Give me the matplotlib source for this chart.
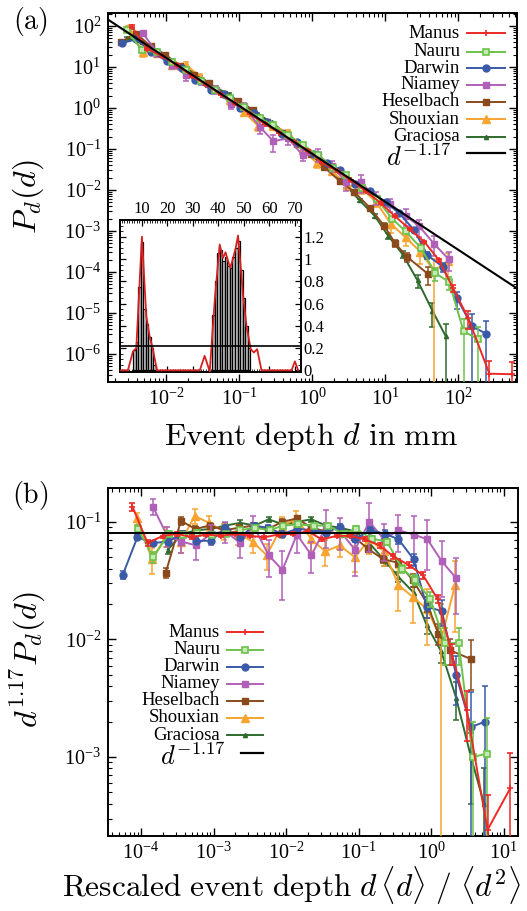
import numpy as np
import matplotlib
matplotlib.use("Agg")
import matplotlib.pyplot as plt
from matplotlib.lines import Line2D
from matplotlib.ticker import (LogLocator, NullFormatter, MultipleLocator, FixedLocator,
                               LogFormatterSciNotation)

# ---------------- data ----------------
sites = ["Manus", "Nauru", "Darwin", "Niamey", "Heselbach", "Shouxian", "Graciosa"]

# panel (a): event depth d (mm) and P_d(d)
d_manus = [0.0034, 0.0055, 0.0089, 0.0141, 0.0224, 0.0355, 0.0562, 0.0891, 0.141, 0.224, 0.355, 0.562, 0.891,
           1.38, 2.24, 3.39, 5.5, 8.7, 13.5, 21.9, 34.7, 55, 86, 138, 269, 550]
P_manus = [95, 28, 18, 11.1, 6.05, 3.7, 2.11, 1.29, 0.718, 0.409, 0.25, 0.149, 0.0912, 0.0465, 0.0282, 0.0174,
           0.00923, 0.0048, 0.00234, 0.0011, 5.4e-4, 1.93e-4, 3.95e-5, 7.5e-6, 3.3e-7, 3.2e-7]
d_nauru = [0.00288, 0.00468, 0.00759, 0.012, 0.0186, 0.0302, 0.0468, 0.0741, 0.117, 0.191, 0.288, 0.468, 0.759,
           1.2, 1.95, 2.95, 4.79, 7.76, 12.6, 19.1, 30.9, 49, 75.9, 119, 186]
P_nauru = [78, 25.5, 23, 13.1, 8.2, 4.46, 2.74, 1.71, 1.04, 0.566, 0.383, 0.222, 0.123, 0.0719, 0.0348, 0.0235,
           0.0111, 0.00589, 0.00197, 9.8e-4, 3.87e-4, 9.4e-5, 5.6e-5, 3.6e-6, 2.3e-6]
d_darwin = [0.00245, 0.00389, 0.0063, 0.0102, 0.0166, 0.0251, 0.0407, 0.0631, 0.102, 0.158, 0.245, 0.389, 0.617,
            1.05, 1.58, 2.4, 3.89, 6.31, 10.2, 15.5, 25.1, 38, 61.7, 96.6, 155, 243]
P_darwin = [38, 47, 23.7, 13.8, 9.2, 4.93, 2.80, 2.16, 1.02, 0.771, 0.442, 0.23, 0.147, 0.0773, 0.0454, 0.0313,
            0.0138, 0.00944, 0.005, 0.00275, 0.00105, 2.58e-4, 1.34e-4, 2.29e-5, 4.8e-6, 3.1e-6]
d_niamey = [0.00479, 0.00759, 0.012, 0.019, 0.0302, 0.0479, 0.0776, 0.117, 0.191, 0.295, 0.468, 0.741, 1.2, 1.86,
            2.95, 4.68, 7.41, 11.7, 19.1, 29.5, 46.8, 74.1]
P_niamey = [67, 21.9, 11.4, 6.2, 4.56, 2.79, 1.26, 1.09, 0.349, 0.155, 0.181, 0.0713, 0.0719, 0.0385, 0.0155,
            0.0157, 0.0065, 0.00456, 0.00236, 0.00129, 4.9e-4, 2.06e-4]
d_heselbach = [0.0024, 0.00389, 0.00617, 0.00977, 0.0155, 0.0245, 0.0389, 0.0617, 0.0977, 0.155, 0.245, 0.389,
               0.617, 0.955, 1.48, 2.4, 3.8, 6.17, 9.77, 13.8, 20, 38.9]
P_heselbach = [41, 65, 32, 20.1, 10.7, 6.53, 3.99, 2.17, 1.46, 0.91, 0.442, 0.24, 0.134, 0.0748, 0.0356, 0.0164,
               0.00895, 0.00369, 0.00133, 4.98e-4, 2.34e-4, 8.9e-5]
d_shouxian = [0.00302, 0.00479, 0.00759, 0.012, 0.0186, 0.0295, 0.0468, 0.0741, 0.117, 0.182, 0.295, 0.468, 0.759,
              1.17, 1.86, 3.02, 4.79, 7.59, 12.0, 19.1, 30.2, 46.8, 72.4]
P_shouxian = [91, 23.7, 21.9, 11.4, 11.4, 5.77, 2.86, 1.6, 0.79, 0.369, 0.364, 0.249, 0.0935, 0.0446, 0.0292,
              0.0132, 0.0108, 0.00502, 0.0015, 6.97e-4, 3.15e-4, 1.06e-4, 1.84e-4]
d_graciosa = [0.00295, 0.00468, 0.00741, 0.0117, 0.0182, 0.0295, 0.0468, 0.0724, 0.115, 0.178, 0.282, 0.447, 0.708,
              1.12, 1.78, 2.95, 4.47, 7.24, 11.0, 17.4, 27.9, 44.7, 67.6]
P_graciosa = [50, 40.5, 25.3, 15.1, 9.7, 5.77, 3.21, 2.16, 1.15, 0.723, 0.442, 0.23, 0.128, 0.0695, 0.0322, 0.0123,
              0.00562, 0.00232, 7.7e-4, 2.7e-4, 6.2e-5, 1.12e-5, 2.75e-6]

# panel (b): rescaled depth and d^1.17 P_d(d)
xb_manus = [7.6e-5, 1.23e-4, 2.0e-4, 3.16e-4, 5.0e-4, 7.9e-4, 1.26e-3, 2.0e-3, 3.16e-3, 5.0e-3, 7.9e-3, 0.0126,
            0.02, 0.031, 0.05, 0.076, 0.123, 0.195, 0.30, 0.49, 0.78, 1.23, 1.93, 3.1, 6.0, 12.3]
yb_manus = [0.135, 0.066, 0.076, 0.079, 0.074, 0.078, 0.076, 0.079, 0.076, 0.074, 0.078, 0.079, 0.083, 0.071, 0.076,
            0.076, 0.071, 0.063, 0.051, 0.043, 0.035, 0.022, 0.0076, 0.0025, 2.4e-4, 5.4e-4]
xb_nauru = [9.1e-5, 1.48e-4, 2.4e-4, 3.8e-4, 5.9e-4, 9.5e-4, 1.48e-3, 2.34e-3, 3.7e-3, 6.0e-3, 9.1e-3, 0.0148,
            0.024, 0.038, 0.062, 0.093, 0.151, 0.245, 0.40, 0.60, 0.98, 1.55, 2.4, 3.76, 5.9]
yb_nauru = [0.087, 0.050, 0.079, 0.078, 0.081, 0.078, 0.079, 0.085, 0.089, 0.085, 0.093, 0.095, 0.093, 0.093, 0.079,
            0.087, 0.072, 0.068, 0.040, 0.032, 0.022, 0.0093, 0.0093, 0.001, 0.00107]
xb_darwin = [5.6e-5, 8.9e-5, 1.45e-4, 2.34e-4, 3.8e-4, 5.75e-4, 9.3e-4, 1.45e-3, 2.34e-3, 3.6e-3, 5.6e-3, 8.9e-3,
             0.0141, 0.024, 0.036, 0.055, 0.089, 0.145, 0.234, 0.355, 0.575, 0.87, 1.41, 2.21, 3.55, 5.56]
yb_darwin = [0.0355, 0.074, 0.066, 0.068, 0.079, 0.069, 0.069, 0.089, 0.074, 0.093, 0.089, 0.079, 0.087, 0.085,
             0.081, 0.091, 0.071, 0.085, 0.079, 0.071, 0.048, 0.019, 0.0174, 0.005, 0.0018, 0.002]
xb_niamey = [1.45e-4, 2.3e-4, 3.6e-4, 5.75e-4, 9.1e-4, 1.45e-3, 2.34e-3, 3.55e-3, 5.75e-3, 8.9e-3, 0.0141, 0.0224,
             0.036, 0.056, 0.089, 0.141, 0.224, 0.355, 0.575, 0.89, 1.41, 2.24]
yb_niamey = [0.135, 0.076, 0.068, 0.063, 0.079, 0.083, 0.066, 0.093, 0.052, 0.039, 0.078, 0.052, 0.093, 0.083,
             0.058, 0.10, 0.071, 0.085, 0.078, 0.071, 0.046, 0.033]
xb_heselbach = [2.19e-4, 3.55e-4, 5.6e-4, 8.9e-4, 1.41e-3, 2.24e-3, 3.55e-3, 5.6e-3, 8.9e-3, 0.0141, 0.0224,
                0.0355, 0.056, 0.087, 0.135, 0.219, 0.347, 0.56, 0.89, 1.26, 1.82, 3.55]
yb_heselbach = [0.037, 0.102, 0.087, 0.093, 0.085, 0.089, 0.093, 0.087, 0.10, 0.107, 0.089, 0.083, 0.079, 0.074,
                0.059, 0.048, 0.045, 0.032, 0.020, 0.0112, 0.0081, 0.0068]
xb_shouxian = [8.9e-5, 1.41e-4, 2.24e-4, 3.55e-4, 5.5e-4, 8.7e-4, 1.38e-3, 2.19e-3, 3.47e-3, 5.4e-3, 8.7e-3,
               0.0138, 0.0224, 0.0347, 0.055, 0.089, 0.141, 0.224, 0.355, 0.56, 0.89, 1.38, 2.14]
yb_shouxian = [0.107, 0.048, 0.076, 0.068, 0.112, 0.098, 0.083, 0.079, 0.068, 0.052, 0.091, 0.107, 0.071, 0.056,
               0.063, 0.05, 0.071, 0.056, 0.029, 0.023, 0.018, 0.01, 0.029]
xb_graciosa = [2.34e-4, 3.7e-4, 5.9e-4, 9.3e-4, 1.45e-3, 2.34e-3, 3.7e-3, 5.75e-3, 9.1e-3, 0.0141, 0.0224, 0.0355,
               0.056, 0.089, 0.141, 0.234, 0.355, 0.575, 0.87, 1.38, 2.21, 3.55, 5.37]
yb_graciosa = [0.058, 0.079, 0.085, 0.087, 0.093, 0.098, 0.093, 0.105, 0.095, 0.10, 0.105, 0.093, 0.089, 0.083,
               0.066, 0.046, 0.034, 0.025, 0.0132, 0.0079, 0.0032, 0.001, 4e-4]

# relative error of each bin (same bins in both panels)
rel_manus = [0.08, 0.06, 0.05, 0.04, 0.04, 0.03, 0.03, 0.03, 0.03, 0.03, 0.03, 0.03, 0.03, 0.03, 0.03, 0.03, 0.04,
             0.04, 0.05, 0.06, 0.07, 0.08, 0.2, 0.45, 1.0, 1.0]
rel_nauru = [0.08, 0.1, 0.05, 0.05, 0.05, 0.04, 0.04, 0.04, 0.04, 0.04, 0.04, 0.04, 0.04, 0.04, 0.04, 0.05, 0.05,
             0.06, 0.08, 0.1, 0.15, 0.35, 0.35, 1.0, 1.0]
rel_darwin = [0.08, 0.06, 0.05, 0.05, 0.05, 0.05, 0.05, 0.05, 0.05, 0.05, 0.05, 0.05, 0.05, 0.05, 0.05, 0.05, 0.06,
              0.06, 0.07, 0.08, 0.12, 0.2, 0.25, 0.45, 1.0, 1.0]
rel_niamey = [0.15, 0.2, 0.2, 0.25, 0.2, 0.2, 0.25, 0.2, 0.35, 0.45, 0.3, 0.3, 0.35, 0.3, 0.4, 0.45, 0.35, 0.35,
              0.45, 0.45, 0.5, 0.5]
rel_heselbach = [0.1, 0.08, 0.06, 0.05, 0.05, 0.05, 0.05, 0.05, 0.05, 0.05, 0.05, 0.05, 0.05, 0.05, 0.06, 0.07,
                 0.08, 0.12, 0.15, 0.2, 0.25, 0.45]
rel_shouxian = [0.12, 0.25, 0.2, 0.2, 0.15, 0.15, 0.15, 0.2, 0.2, 0.25, 0.2, 0.15, 0.2, 0.25, 0.2, 0.25, 0.25, 0.25,
                0.4, 0.4, 0.5, 1.0, 0.6]
rel_graciosa = [0.08, 0.06, 0.05, 0.05, 0.05, 0.05, 0.05, 0.05, 0.05, 0.05, 0.05, 0.05, 0.05, 0.05, 0.06, 0.08, 0.1,
                0.12, 0.15, 0.2, 0.35, 0.6, 1.0]

fit_exponent = -1.17
fit_amplitude = 0.0766      # panel (a) power law
plateau_b = 0.0805          # panel (b) reference line

# tick decades shown
xticks_a = [1e-2, 1e-1, 1e0, 1e1, 1e2]
yticks_a = [1e-6, 1e-5, 1e-4, 1e-3, 1e-2, 1e-1, 1e0, 1e1, 1e2]
xticks_b = [1e-4, 1e-3, 1e-2, 1e-1, 1e0, 1e1]
yticks_b = [1e-3, 1e-2, 1e-1]

# inset
inset_bar_x = [7, 8, 9, 10, 11, 12, 13, 14, 15, 38, 39, 40, 41, 42, 43, 44, 45, 46, 47, 48, 49, 50, 51, 52]
inset_bar_h = [0.18, 0.25, 0.75, 1.15, 0.55, 0.42, 0.3, 0.2, 0.05, 0.5, 0.8, 1.05, 1.08, 0.98, 1.02, 0.94, 0.92,
               1.02, 1.1, 1.16, 0.9, 0.65, 0.4, 0.2]
inset_line_x = [1, 4.5, 6.5, 7.8, 10, 11.7, 13, 14.3, 15.9, 32.7, 34.6, 36.6, 38.6, 40.5, 41.8, 42.8, 43.8, 44.7,
                45.8, 46.7, 47.7, 48.7, 49.7, 51, 52.7, 53.9, 55.2, 56.9, 68.7, 70, 71.3]
inset_line_y = [0, 0, 0.17, 0.2, 1.2, 0.49, 0.31, 0.19, 0, 0, 0.13, -0.01, 0.64, 1.13, 1.01, 1.06, 0.98, 0.92,
                1.01, 1.09, 1.21, 0.94, 0.67, 0.40, 0.19, 0.16, 0.19, 0, 0, 0.08, 0]
inset_threshold = 0.22
inset_xticks = [10, 20, 30, 40, 50, 60, 70]
inset_yticks = [0, 0.2, 0.4, 0.6, 0.8, 1.0, 1.2]

# ---------------- style ----------------
plt.rcParams["font.family"] = ["Liberation Serif", "DejaVu Serif"]
plt.rcParams["mathtext.fontset"] = "stix"

colors = {"Manus": "#ec2a26", "Nauru": "#6cc24c", "Darwin": "#3a5aa8", "Niamey": "#b060b8",
          "Heselbach": "#8a4a1c", "Shouxian": "#f7a431", "Graciosa": "#2e6a2e"}
mstyle = {"Manus": dict(marker="+", ms=5, mew=1.2),
          "Nauru": dict(marker="s", ms=4.5, mfc="#c6eab4", mew=1.2),
          "Darwin": dict(marker="o", ms=5),
          "Niamey": dict(marker="s", ms=4),
          "Heselbach": dict(marker="s", ms=5),
          "Shouxian": dict(marker="^", ms=5.5),
          "Graciosa": dict(marker="^", ms=3)}

data_a = {"Manus": (d_manus, P_manus), "Nauru": (d_nauru, P_nauru), "Darwin": (d_darwin, P_darwin),
          "Niamey": (d_niamey, P_niamey), "Heselbach": (d_heselbach, P_heselbach),
          "Shouxian": (d_shouxian, P_shouxian), "Graciosa": (d_graciosa, P_graciosa)}
data_b = {"Manus": (xb_manus, yb_manus), "Nauru": (xb_nauru, yb_nauru), "Darwin": (xb_darwin, yb_darwin),
          "Niamey": (xb_niamey, yb_niamey), "Heselbach": (xb_heselbach, yb_heselbach),
          "Shouxian": (xb_shouxian, yb_shouxian), "Graciosa": (xb_graciosa, yb_graciosa)}
rels = {"Manus": rel_manus, "Nauru": rel_nauru, "Darwin": rel_darwin, "Niamey": rel_niamey,
        "Heselbach": rel_heselbach, "Shouxian": rel_shouxian, "Graciosa": rel_graciosa}

W, H = 527, 911
fig = plt.figure(figsize=(W / 100, H / 100), dpi=100)


def fbox(l, t, r, b):
    return [l / W, 1 - b / H, (r - l) / W, (b - t) / H]


ax_a = fig.add_axes(fbox(108, 13, 517, 382))
ax_b = fig.add_axes(fbox(108, 488, 518, 836))


def draw_series(ax, xs, ys, rel, name, z):
    x = np.asarray(xs, float)
    y = np.asarray(ys, float)
    r = np.asarray(rel, float)
    lo = np.where(r >= 1, y * (1 - 1e-9), y * r)
    hi = y * r
    st = dict(mstyle[name])
    st.setdefault("mfc", colors[name])
    ax.errorbar(x, y, yerr=[lo, hi], color=colors[name], mec=colors[name], lw=1.4, elinewidth=1.1,
                capsize=2.2, capthick=1.1, zorder=z, **st)


order = sites[::-1]
for k, name in enumerate(order):
    xs, ys = data_a[name]
    draw_series(ax_a, xs, ys, rels[name], name, 3 + k)
    xs, ys = data_b[name]
    draw_series(ax_b, xs, ys, rels[name], name, 3 + k)

# reference lines
ax_a.set_xscale("log")
ax_a.set_yscale("log")
ax_a.set_xlim(1.6e-3, 643)
ax_a.set_ylim(2.07e-7, 207)
xx = np.logspace(np.log10(1.6e-3), np.log10(643), 50)
ax_a.plot(xx, fit_amplitude * xx ** fit_exponent, color="black", lw=1.5, zorder=20)

ax_b.set_xscale("log")
ax_b.set_yscale("log")
ax_b.set_xlim(3.5e-5, 15.8)
ax_b.set_ylim(2.13e-4, 0.194)
ax_b.axhline(plateau_b, color="black", lw=1.4, zorder=20)


def style_log(ax, xt, yt):
    for s in ax.spines.values():
        s.set_linewidth(1.4)
    ax.tick_params(which="both", direction="in", top=True, right=True, labelsize=14.5, pad=5)
    ax.tick_params(which="major", length=6, width=1.0)
    ax.tick_params(which="minor", length=3, width=0.8)
    ax.xaxis.set_major_locator(FixedLocator(xt))
    ax.yaxis.set_major_locator(FixedLocator(yt))
    for axis in (ax.xaxis, ax.yaxis):
        axis.set_major_formatter(LogFormatterSciNotation())
        axis.set_minor_locator(LogLocator(base=10, subs=np.arange(2, 10), numticks=300))
        axis.set_minor_formatter(NullFormatter())


style_log(ax_a, xticks_a, yticks_a)
style_log(ax_b, xticks_b, yticks_b)


# ---- manual legends ----
def legend(ax, box, text_right, line_l, line_r, rows, d_row, d_line_l, d_text_right, d_text_y, fs=13.5):
    l, t, r, b = box

    def ax_xy(px, py):
        return (px - l) / (r - l), (b - py) / (b - t)

    for name, py in zip(sites, rows):
        tx, ty = ax_xy(text_right, py)
        ax.text(tx, ty, name, transform=ax.transAxes, ha="right", va="center", fontsize=fs, zorder=30)
        x0, y0 = ax_xy(line_l, py)
        x1, _ = ax_xy(line_r, py)
        ax.add_line(Line2D([x0, x1], [y0, y0], transform=ax.transAxes, color=colors[name], lw=1.4,
                           clip_on=False, zorder=30))
        st = dict(mstyle[name])
        st.setdefault("mfc", colors[name])
        ax.add_line(Line2D([(x0 + x1) / 2], [y0], transform=ax.transAxes, color=colors[name],
                           mec=colors[name], lw=0, clip_on=False, zorder=31, **st))
    x0, y0 = ax_xy(d_line_l, d_row)
    x1, _ = ax_xy(line_r, d_row)
    ax.add_line(Line2D([x0, x1], [y0, y0], transform=ax.transAxes, color="black", lw=1.6,
                       clip_on=False, zorder=30))
    tx, ty = ax_xy(d_text_right, d_text_y)
    ax.text(tx, ty, r"$d^{-1.17}$", transform=ax.transAxes, ha="right", va="center", fontsize=19,
            math_fontfamily="cm", zorder=30)


legend(ax_a, (108, 13, 517, 382), 460, 467, 505,
       [33.3, 51.5, 68.3, 84.8, 101.8, 119, 136.5], 153.3, 467, 452, 158)
legend(ax_b, (108, 488, 518, 836), 220, 227, 263,
       [632.3, 650, 666.8, 683.5, 700.5, 717.7, 735], 752.7, 241, 226, 757)

# ---- inset ----
ax_in = fig.add_axes(fbox(120, 220, 301, 372))
ax_in.set_zorder(40)
ax_in.bar(inset_bar_x, inset_bar_h, width=1.0, color="#c4c4c4", edgecolor="black", lw=0.9, zorder=2)
ax_in.plot(inset_line_x, inset_line_y, color="#d42020", lw=1.3, zorder=3)
ax_in.axhline(inset_threshold, color="black", lw=1.2, zorder=4)
ax_in.set_xlim(1.4, 72.4)
ax_in.set_ylim(-0.015, 1.35)
for s in ax_in.spines.values():
    s.set_linewidth(1.4)
ax_in.xaxis.set_major_locator(FixedLocator(inset_xticks))
ax_in.xaxis.set_minor_locator(MultipleLocator(1))
ax_in.yaxis.set_major_locator(FixedLocator(inset_yticks))
ax_in.yaxis.set_major_formatter(plt.FuncFormatter(lambda v, p: ("%g" % v)))
ax_in.yaxis.set_minor_locator(MultipleLocator(0.05))
ax_in.tick_params(which="both", direction="in", top=True, bottom=True, left=True, right=True,
                  labeltop=True, labelbottom=False, labelleft=False, labelright=True, labelsize=12, pad=2)
ax_in.tick_params(which="major", length=4, width=0.9)
ax_in.tick_params(which="minor", length=2, width=0.6)

# ---- labels ----
fig.text(30 / W, 1 - 22 / H, r"$(\mathrm{a})$", math_fontfamily="cm", fontsize=20, ha="center", va="center")
fig.text(30 / W, 1 - 495 / H, r"$(\mathrm{b})$", math_fontfamily="cm", fontsize=20, ha="center", va="center")
fig.text(311 / W, 1 - 437 / H, r"$\mathrm{Event\ depth\ }d\mathrm{\ in\ mm}$", math_fontfamily="cm",
         fontsize=22.7, ha="center", va="center")
fig.text(28 / W, 1 - 197 / H, r"$P_d(d)$", math_fontfamily="cm", fontsize=23, ha="center", va="center",
         rotation=90)
fig.text(28 / W, 1 - 660 / H, r"$d^{1.17}P_d(d)$", math_fontfamily="cm", fontsize=23, ha="center",
         va="center", rotation=90)
fig.text(62 / W, 1 - 886 / H,
         r"$\mathrm{Rescaled\ event\ depth\ }d\,\langle d\rangle\ /\ \langle d^{2}\rangle$",
         math_fontfamily="cm", fontsize=22.5, ha="left", va="center")

fig.savefig("out.png", dpi=100)
